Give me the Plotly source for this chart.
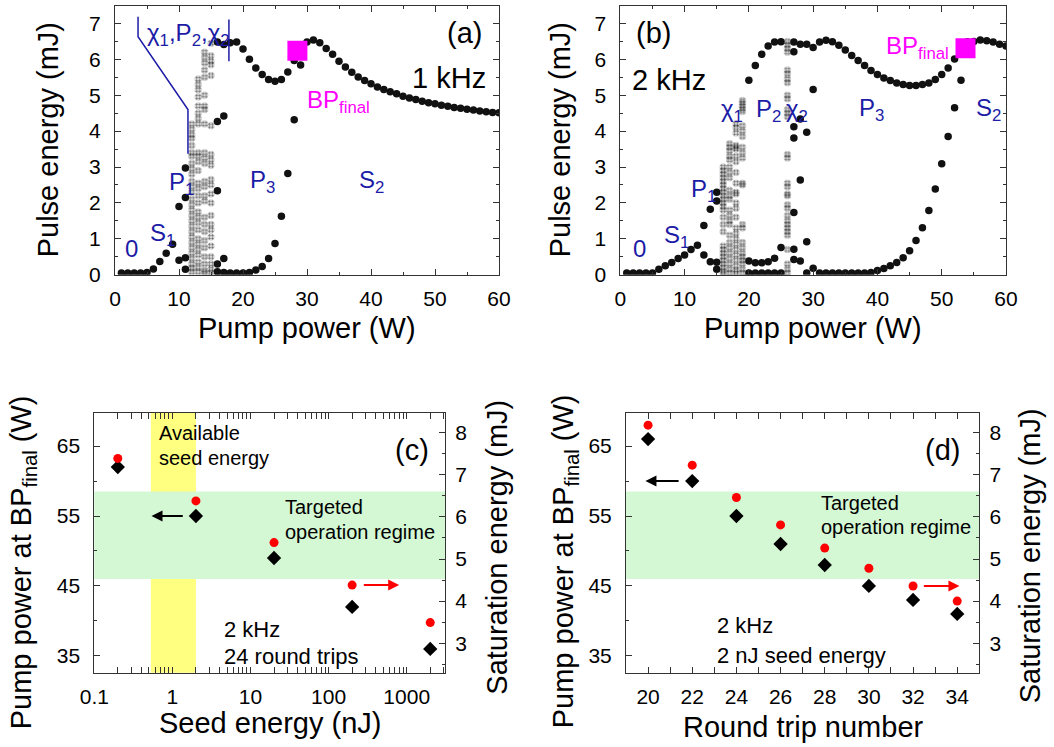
import math
import plotly.graph_objects as go

# ---------------- data ----------------
# (a) 1 kHz bifurcation diagram: pump power (W) -> pulse energy (mJ)
a_s1_pump = [1, 2, 3, 4, 5, 6, 7, 8, 9, 10, 10, 11, 11, 11, 11]
a_s1_energy = [0.05, 0.05, 0.05, 0.05, 0.06, 0.16, 0.37, 0.60, 0.85, 1.90, 0.40, 2.97, 2.15, 0.47, 0.15]
a_upper_pump = list(range(16, 61))
a_upper_energy = [6.48, 6.41, 6.46, 6.48, 6.29, 6.00, 5.76, 5.58, 5.44, 5.39, 5.44, 5.65, 5.97, 6.30,
                  6.48, 6.54, 6.46, 6.30, 6.14, 5.95, 5.79, 5.64, 5.51, 5.41, 5.32, 5.23, 5.16, 5.10,
                  5.04, 4.97, 4.92, 4.88, 4.83, 4.79, 4.76, 4.72, 4.69, 4.66, 4.64, 4.61, 4.59, 4.56,
                  4.54, 4.52, 4.51]
a_lower_pump = [16, 16, 16, 16, 17, 17, 17, 18, 19, 20, 21, 22, 23, 24, 25, 26, 27, 28, 29]
a_lower_energy = [4.27, 2.34, 0.30, 0.08, 4.42, 0.45, 0.06, 0.05, 0.05, 0.05, 0.06, 0.13, 0.23, 0.45,
                  0.87, 1.63, 2.82, 4.32, 5.84]
a_chaos_pump = [12, 13, 14, 15]
a_chaos_12 = [4.20, 4.05, 3.90, 3.80, 3.60, 3.40, 3.30, 3.10, 2.95, 2.80, 2.60, 2.45, 2.30, 2.10, 1.95,
              1.80, 1.65, 1.50, 1.35, 1.20, 1.05, 0.90, 0.75, 0.60, 0.45, 0.30, 0.18, 0.08]
a_chaos_13 = [5.45, 5.30, 5.15, 4.95, 4.70, 4.50, 4.35, 4.20, 3.40, 3.30, 3.15, 2.90, 2.55, 2.40, 2.20,
              2.00, 1.75, 1.60, 1.45, 1.25, 1.00, 0.85, 0.70, 0.55, 0.35, 0.20, 0.08]
a_chaos_14 = [6.20, 6.05, 5.90, 5.70, 5.50, 5.00, 4.70, 4.60, 4.20, 3.40, 3.25, 3.10, 2.60, 2.45, 2.20,
              2.05, 1.60, 1.40, 1.20, 0.95, 0.75, 0.50, 0.30, 0.12, 0.06]
a_chaos_15 = [6.45, 6.10, 5.95, 5.85, 5.55, 4.15, 3.35, 3.20, 3.05, 2.65, 2.50, 2.25, 2.00, 1.65, 1.40,
              1.25, 1.05, 0.80, 0.50, 0.30, 0.15, 0.06]
a_bp_final = [28.5, 6.24]

# (b) 2 kHz bifurcation diagram
b_s1_pump = [1, 2, 3, 4, 5, 6, 7, 8, 9, 10, 11, 12, 13, 13, 14, 14, 15, 15, 15, 15]
b_s1_energy = [0.05, 0.05, 0.05, 0.05, 0.05, 0.15, 0.25, 0.34, 0.45, 0.55, 0.70, 0.82, 1.37, 0.55,
               1.82, 0.36, 2.30, 2.05, 0.35, 0.15]
b_upper_pump = [20, 21, 22, 23, 24, 25] + list(range(27, 61))
b_upper_energy = [5.42, 5.83, 6.14, 6.37, 6.48, 6.49, 6.48, 6.42, 6.42, 6.33, 6.48, 6.53, 6.49, 6.39,
                  6.26, 6.11, 5.97, 5.83, 5.69, 5.58, 5.48, 5.41, 5.34, 5.30, 5.27, 5.27, 5.30, 5.34,
                  5.44, 5.58, 5.76, 6.01, 6.30, 6.49, 6.50, 6.54, 6.52, 6.48, 6.42, 6.37]
b_lower_pump = [20, 20, 21, 21, 22, 22, 23, 23, 24, 24, 25, 25, 27, 27, 27, 27, 27, 27, 28, 28, 28,
                29, 29, 29, 30, 30, 31, 32, 33, 34, 35, 36, 37, 38, 39, 40, 41, 42, 43, 44, 45, 46,
                47, 48, 49, 50, 51, 52, 53]
b_lower_energy = [0.38, 0.05, 0.33, 0.05, 0.33, 0.05, 0.36, 0.05, 0.46, 0.05, 0.76, 0.05, 6.21, 4.12,
                  3.81, 1.73, 0.71, 0.42, 4.34, 2.64, 0.38, 3.97, 0.92, 0.05, 5.16, 0.18, 0.05, 0.05,
                  0.05, 0.05, 0.05, 0.05, 0.05, 0.05, 0.06, 0.12, 0.17, 0.25, 0.34, 0.47, 0.67, 0.95,
                  1.31, 1.79, 2.39, 3.09, 3.85, 4.65, 5.42]
b_chaos_pump = [16, 17, 18, 19, 26]
b_chaos_16 = [3.00, 2.90, 2.80, 2.70, 2.60, 2.50, 2.40, 2.30, 2.20, 2.10, 2.00, 1.90, 1.80, 1.60, 1.40,
              1.20, 0.80, 0.70, 0.60, 0.50, 0.40, 0.30, 0.20, 0.10, 0.05]
b_chaos_17 = [3.65, 3.55, 3.45, 3.30, 3.20, 3.00, 2.85, 2.70, 2.35, 2.20, 2.10, 1.80, 1.65, 1.50, 1.40,
              1.10, 0.90, 0.75, 0.60, 0.45, 0.30, 0.15, 0.05]
b_chaos_18 = [4.20, 4.10, 3.95, 3.60, 3.55, 3.50, 3.30, 3.15, 2.85, 2.55, 2.30, 2.25, 2.00, 1.85, 1.60,
              1.30, 1.15, 1.00, 0.85, 0.70, 0.55, 0.40, 0.25, 0.12, 0.05]
b_chaos_19 = [4.85, 4.78, 4.70, 4.62, 4.55, 4.15, 4.00, 3.85, 3.55, 3.40, 3.25, 2.55, 2.50, 1.40, 1.30,
              0.90, 0.75, 0.60, 0.50, 0.40, 0.30, 0.15, 0.05]
b_chaos_26 = [6.50, 6.40, 6.30, 6.20, 5.70, 5.60, 5.45, 5.35, 5.00, 4.90, 4.60, 4.50, 4.40, 3.35, 3.25,
              2.55, 2.45, 2.25, 2.20, 1.95, 1.85, 1.65, 1.50, 1.40, 1.30, 1.20, 1.10, 0.70, 0.30, 0.15,
              0.05]
b_bp_final = [53.7, 6.31]

# (c) vs seed energy (2 kHz, 24 round trips)
seed_energy = [0.2, 2, 20, 200, 2000]
c_pump_bp = [62, 55, 49, 42, 36]
c_sat_energy = [7.39, 6.38, 5.39, 4.38, 3.49]

# (d) vs round trip number (2 kHz, 2 nJ seed)
round_trips = [20, 22, 24, 26, 28, 30, 32, 34]
d_pump_bp = [66, 60, 55, 51, 48, 45, 43, 41]
d_sat_energy = [8.18, 7.23, 6.46, 5.81, 5.26, 4.78, 4.36, 4.00]

target_band_w = [46, 58.5]
seed_band_nj = [0.53, 2.0]

# blue bracket in (a)
bracket_left_x = [3.6, 3.6, 11.4, 11.4]
bracket_left_y = [7.19, 6.63, 4.60, 3.37]
bracket_right_x = [17.8, 17.8]
bracket_right_y = [7.11, 5.95]

# ---------------- styling ----------------
FONT = "Liberation Sans, Arial, sans-serif"
BLUE = "#1c1ca6"
MAG = "#ff00ff"
W, H = 1054, 747
BLACK_DOT = "#111111"
GRAY_DOT = "rgba(70,70,70,0.22)"
GRAY_HASH = "rgba(30,30,30,0.30)"


def px(x):
    return x / W


def py(y):
    return 1 - y / H


fig = go.Figure()


def scat(x, y, xa, ya, **kw):
    fig.add_trace(go.Scatter(x=x, y=y, xaxis=xa, yaxis=ya, mode="markers", showlegend=False,
                             hoverinfo="skip", **kw))


dot = dict(size=7.5, color=BLACK_DOT, line=dict(width=0))
gdot = dict(size=7.5, color=GRAY_DOT, line=dict(width=0))
ghash = dict(symbol="hash-open", size=6, color=GRAY_HASH, line=dict(width=1, color=GRAY_HASH))


def chaos(pump, col, xa, ya):
    scat([pump] * len(col), col, xa, ya, marker=gdot)
    scat([pump] * len(col), col, xa, ya, marker=ghash)


# (a)
for pump, col in zip(a_chaos_pump, [a_chaos_12, a_chaos_13, a_chaos_14, a_chaos_15]):
    chaos(pump, col, "x", "y")
scat(a_s1_pump, a_s1_energy, "x", "y", marker=dot)
scat(a_upper_pump, a_upper_energy, "x", "y", marker=dot)
scat(a_lower_pump, a_lower_energy, "x", "y", marker=dot)
scat([a_bp_final[0]], [a_bp_final[1]], "x", "y", marker=dict(symbol="square", size=20, color=MAG))
fig.add_trace(go.Scatter(x=bracket_left_x, y=bracket_left_y, xaxis="x", yaxis="y", mode="lines",
                         line=dict(color=BLUE, width=1.5), showlegend=False, hoverinfo="skip"))
fig.add_trace(go.Scatter(x=bracket_right_x, y=bracket_right_y, xaxis="x", yaxis="y", mode="lines",
                         line=dict(color=BLUE, width=1.5), showlegend=False, hoverinfo="skip"))

# (b)
for pump, col in zip(b_chaos_pump, [b_chaos_16, b_chaos_17, b_chaos_18, b_chaos_19, b_chaos_26]):
    chaos(pump, col, "x2", "y2")
scat(b_s1_pump, b_s1_energy, "x2", "y2", marker=dot)
scat(b_upper_pump, b_upper_energy, "x2", "y2", marker=dot)
scat(b_lower_pump, b_lower_energy, "x2", "y2", marker=dot)
scat([b_bp_final[0]], [b_bp_final[1]], "x2", "y2", marker=dict(symbol="square", size=20, color=MAG))

# (c)
scat(seed_energy, c_pump_bp, "x3", "y3", marker=dict(symbol="diamond", size=11, color="black"))
scat(seed_energy, c_sat_energy, "x3", "y4", marker=dict(symbol="circle", size=9, color="#ff0000"))
# (d)
scat(round_trips, d_pump_bp, "x4", "y5", marker=dict(symbol="diamond", size=11, color="black"))
scat(round_trips, d_sat_energy, "x4", "y6", marker=dict(symbol="circle", size=9, color="#ff0000"))


def ax(standoff=6, **kw):
    d = dict(showline=True, linecolor="#333", linewidth=1, ticks="inside", ticklen=6, tickwidth=1,
             tickcolor="#333", showgrid=False, zeroline=False, ticklabelstandoff=standoff,
             automargin=False, tickfont=dict(family=FONT, size=21, color="black"))
    d.update(kw)
    return d


def minor(**kw):
    d = dict(ticks="inside", ticklen=3, tickwidth=1, tickcolor="#333", showgrid=False)
    d.update(kw)
    return d


ya_dom = [py(274.7), py(5.5)]
yc_dom = [py(672.7), py(412.5)]
left_range = [32.6, 69.8]
right_range = [2.3, 8.48]
seed_minor = [v * m for v in [0.1, 1, 10, 100, 1000] for m in range(2, 10)]
YS = 9

fig.update_layout(
    width=W, height=H, margin=dict(l=0, r=0, t=0, b=0, autoexpand=False),
    paper_bgcolor="white", plot_bgcolor="white", showlegend=False,
    font=dict(family=FONT, color="black"),
    xaxis=ax(5, domain=[px(115), px(499)], range=[0, 60], dtick=10, tick0=0, anchor="y",
             mirror="allticks", minor=minor(dtick=5, tick0=0)),
    yaxis=ax(YS, domain=ya_dom, range=[0, 7.5], dtick=1, tick0=0, anchor="x",
             mirror="allticks", minor=minor(dtick=0.5, tick0=0)),
    xaxis2=ax(5, domain=[px(620.3), px(1006)], range=[0, 60], dtick=10, tick0=0, anchor="y2",
              mirror="allticks", minor=minor(dtick=5, tick0=0)),
    yaxis2=ax(YS, domain=ya_dom, range=[0, 7.5], dtick=1, tick0=0, anchor="x2",
              mirror="allticks", minor=minor(dtick=0.5, tick0=0)),
    xaxis3=ax(5, domain=[px(94.3), px(445)], type="log", range=[-1, 3.49], anchor="y3",
              tickvals=[0.1, 1, 10, 100, 1000], ticktext=["0.1", "1", "10", "100", "1000"],
              mirror="allticks", minor=minor(tickvals=seed_minor)),
    yaxis3=ax(YS, domain=yc_dom, range=left_range, tickvals=[35, 45, 55, 65], anchor="x3",
              minor=minor(tickvals=[40, 50, 60])),
    yaxis4=ax(5, range=right_range, dtick=1, tick0=0, anchor="x3", overlaying="y3", side="right",
              minor=minor(dtick=0.5, tick0=0)),
    xaxis4=ax(5, domain=[px(626), px(979.3)], range=[19, 35], tickvals=list(range(20, 35, 2)),
              anchor="y5", mirror="allticks", minor=minor(dtick=1, tick0=19)),
    yaxis5=ax(YS, domain=yc_dom, range=left_range, tickvals=[35, 45, 55, 65], anchor="x4",
              minor=minor(tickvals=[40, 50, 60])),
    yaxis6=ax(5, range=right_range, dtick=1, tick0=0, anchor="x4", overlaying="y5", side="right",
              minor=minor(dtick=0.5, tick0=0)),
)

# bands
fig.add_shape(type="rect", xref="x3", yref="y3 domain", x0=seed_band_nj[0], x1=seed_band_nj[1],
              y0=0, y1=1, fillcolor="#ffff80", line=dict(width=0), layer="below")
fig.add_shape(type="rect", xref="x3 domain", yref="y3", x0=0, x1=1, y0=target_band_w[0],
              y1=target_band_w[1], fillcolor="#d4f7d4", line=dict(width=0), layer="below")
fig.add_shape(type="rect", xref="x4 domain", yref="y5", x0=0, x1=1, y0=target_band_w[0],
              y1=target_band_w[1], fillcolor="#d4f7d4", line=dict(width=0), layer="below")


def txt(text, x, y, size=20, color="black", xanchor="center", yanchor="middle", angle=0):
    fig.add_annotation(text=text, x=px(x), y=py(y), xref="paper", yref="paper", showarrow=False,
                       xanchor=xanchor, yanchor=yanchor, textangle=angle,
                       font=dict(family=FONT, size=size, color=color))


# axis titles
T = 29
txt("Pulse energy (mJ)", 48.3, 140, T, angle=-90)
txt("Pulse energy (mJ)", 560.3, 140, T, angle=-90)
txt("Pump power (W)", 307, 328, T)
txt("Pump power (W)", 813, 328, T)
txt("Pump power at BP<sub>final</sub> (W)", 23.3, 562, T, angle=-90)
txt("Saturation energy (mJ)", 496.7, 547, T, angle=-90)
txt("Seed energy (nJ)", 269.5, 723, T)
txt("Pump power at BP<sub>final</sub> (W)", 565.3, 561, T, angle=-90)
txt("Saturation energy (mJ)", 1030.3, 556, T, angle=-90)
txt("Round trip number", 803.7, 727, T)

# panel (a) labels
L = 24
txt("(a)", 464, 33, 29)
txt("1 kHz", 449, 78, 29)
txt("BP<sub>final</sub>", 305, 101, 24, MAG, xanchor="left")
txt("S<sub>2</sub>", 356.7, 181, L, BLUE, xanchor="left")
txt("P<sub>3</sub>", 248.3, 181, L, BLUE, xanchor="left")
txt("P<sub>1</sub>", 166.7, 184, L, BLUE, xanchor="left")
txt("S<sub>1</sub>", 148.3, 234, L, BLUE, xanchor="left")
txt("0", 131.7, 248, L, BLUE)
txt("χ<sub>1</sub>,P<sub>2</sub>,χ<sub>2</sub>", 145, 34, L, BLUE, xanchor="left")

# panel (b) labels
txt("(b)", 653.7, 33, 29)
txt("2 kHz", 630.3, 80, 29, xanchor="left")
txt("BP<sub>final</sub>", 883.7, 47, 24, MAG, xanchor="left")
txt("S<sub>2</sub>", 973.7, 109, L, BLUE, xanchor="left")
txt("P<sub>3</sub>", 857, 109, L, BLUE, xanchor="left")
txt("χ<sub>1</sub>", 718.7, 110, L, BLUE, xanchor="left")
txt("P<sub>2</sub>", 753.7, 110, L, BLUE, xanchor="left")
txt("χ<sub>2</sub>", 783.7, 110, L, BLUE, xanchor="left")
txt("P<sub>1</sub>", 688.7, 190, L, BLUE, xanchor="left")
txt("S<sub>1</sub>", 662, 237, L, BLUE, xanchor="left")
txt("0", 639.3, 248, L, BLUE)

# panel (c) labels
txt("Available", 156.7, 432.7, 20, xanchor="left")
txt("seed energy", 156.7, 457.7, 20, xanchor="left")
txt("(c)", 412, 450, 29)
txt("Targeted", 283.3, 506.7, 20, xanchor="left")
txt("operation regime", 283.3, 531.7, 20, xanchor="left")
txt("2 kHz", 221.7, 629, 22, xanchor="left")
txt("24 round trips", 221.7, 656.7, 22, xanchor="left")

# panel (d) labels
txt("(d)", 942, 450, 29)
txt("Targeted", 818.7, 503.3, 20, xanchor="left")
txt("operation regime", 818.7, 527.3, 20, xanchor="left")
txt("2 kHz", 715.3, 625.7, 22, xanchor="left")
txt("2 nJ seed energy", 715.3, 655, 22, xanchor="left")


def arrow(x0, x1, y, xr, yr, color, log=False):
    if log:
        x0, x1 = math.log10(x0), math.log10(x1)
    fig.add_annotation(x=x1, y=y, ax=x0, ay=y, xref=xr, yref=yr, axref=xr, ayref=yr, text="",
                       showarrow=True, arrowhead=2, arrowsize=1.1, arrowwidth=2, arrowcolor=color)


arrow(1.42, 0.54, 55, "x3", "y3", "black", log=True)
arrow(270, 800, c_sat_energy[3], "x3", "y4", "#ff0000", log=True)
arrow(21.45, 19.88, 60, "x4", "y5", "black")
arrow(32.42, 34.1, d_sat_energy[6], "x4", "y6", "#ff0000")

fig.write_html("out.html")
